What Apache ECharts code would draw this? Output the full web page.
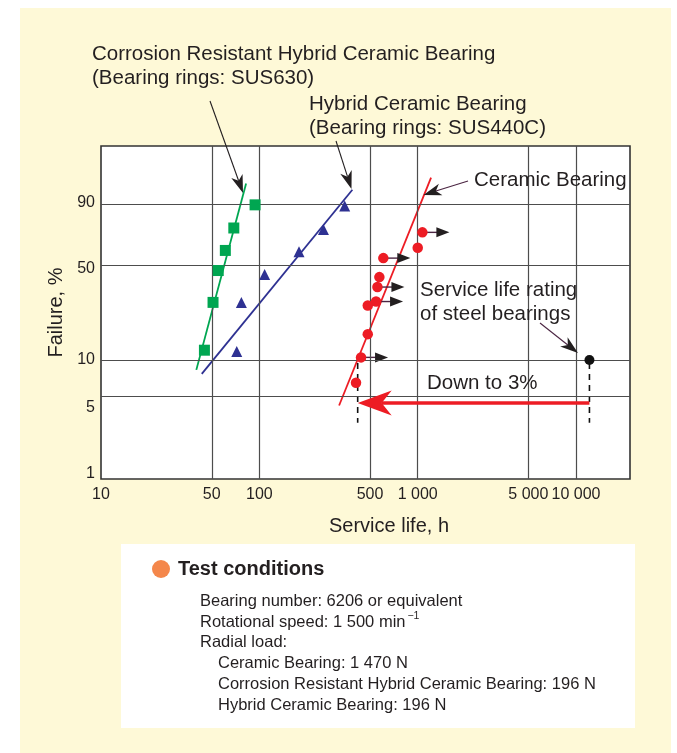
<!DOCTYPE html>
<html><head><meta charset="utf-8">
<script src="https://cdn.jsdelivr.net/npm/echarts@6/dist/echarts.min.js"></script>
<style>
html,body{margin:0;padding:0;background:#fff;}
#bg{position:absolute;left:20px;top:8px;width:651px;height:745px;background:#fef9d7;}
#c{position:absolute;left:0;top:0;width:677px;height:753px;}
</style>
</head><body><div id="bg"></div><div id="c"></div>
<script>
// ---------- data ----------
const xTickValues = [10, 50, 100, 500, 1000, 5000, 10000];
const xTickLabels = ['10', '50', '100', '500', '1 000', '5 000', '10 000'];
const yTickValues = [1, 5, 10, 50, 90];
const yTickLabels = ['1', '5', '10', '50', '90'];

// Corrosion resistant hybrid ceramic bearing (SUS630)
const corrHours = [45, 51, 55, 61, 69, 94];
const corrFailure = [12, 28, 46, 60, 76, 89.5];
const corrFitHours = [40, 82.5];
const corrFitFailure = [8.3, 96.8];

// Hybrid ceramic bearing (SUS440C)
const hybHours = [72, 77, 108, 178, 254, 346];
const hybFailure = [11.7, 28, 43.5, 59, 75, 89];
const hybFitHours = [43.3, 387];
const hybFitFailure = [7.7, 95.2];

// Ceramic bearing
const cerHours = [408, 439, 484, 484, 546, 557, 573, 607, 1001, 1071];
const cerFailure = [6.5, 10.5, 16.1, 26.6, 28.4, 35.9, 41.8, 54.5, 62, 73];
const cerSuspended = [0, 1, 0, 0, 1, 1, 0, 1, 0, 1];
const cerFitHours = [319, 1215];
const cerFitFailure = [4.2, 97.9];

// Steel bearing rating life and comparison
const steelHours = [12160];
const steelFailure = [10];
const cerRatedHours = [418];
const guideFailure = [10, 3];
const arrowFailure = [4.4];

// ---------- scales ----------
const tx = h => Math.log10(h);
const ty = p => Math.log(-Math.log(1 - p / 100));
const pairs = (xs, ys) => xs.map((x, i) => [tx(x), ty(ys[i])]);

const FONT = "'Liberation Sans', Arial, Helvetica, sans-serif";
const TXT = '#231f20';
const GREEN = '#00a651', BLUE = '#2e3192', RED = '#ed1c24';
const MAROON = '#4b2542';

function indexOfTick(values, tf, v) {
  for (let i = 0; i < values.length; i++) if (Math.abs(tf(values[i]) - v) < 1e-6) return i;
  return -1;
}
// small vertical nudges of the y tick labels, as in the original print
const yLabelRich = {
  t0: { padding: [0, 0, 10, 0] },
  t1: { padding: [22, 0, 0, 0] },
  t2: { padding: [0, 0, 0, 0] },
  t3: { padding: [9, 0, 0, 0] },
  t4: { padding: [0, 0, 2, 0] }
};

function arrowHead(x1, y1, x2, y2, L, W, notch) {
  const dx = x2 - x1, dy = y2 - y1, len = Math.hypot(dx, dy);
  const ux = dx / len, uy = dy / len, nx = -uy, ny = ux;
  return [
    [x2, y2],
    [x2 - ux * L + nx * W / 2, y2 - uy * L + ny * W / 2],
    [x2 - ux * notch, y2 - uy * notch],
    [x2 - ux * L - nx * W / 2, y2 - uy * L - ny * W / 2]
  ];
}
function pointer(x1, y1, x2, y2, color) {
  const L = 18, W = 12, notch = 13;
  const len = Math.hypot(x2 - x1, y2 - y1);
  const ex = x2 - (x2 - x1) / len * notch, ey = y2 - (y2 - y1) / len * notch;
  return [
    { type: 'line', silent: true, z: 20, shape: { x1: x1, y1: y1, x2: ex, y2: ey }, style: { stroke: color, lineWidth: 1.1 } },
    { type: 'polygon', silent: true, z: 20, shape: { points: arrowHead(x1, y1, x2, y2, L, W, notch) }, style: { fill: TXT } }
  ];
}
function txt(text, x, y, size, opts) {
  opts = opts || {};
  return {
    type: 'text', silent: true, z: 21,
    style: {
      text: text, x: x, y: y, fill: TXT,
      font: (opts.bold ? 'bold ' : '') + size + 'px ' + FONT,
      align: opts.align || 'left', verticalAlign: 'middle',
      textAlign: opts.align || 'left', textVerticalAlign: 'middle'
    }
  };
}

const chart = echarts.init(document.getElementById('c'), null, { renderer: 'canvas' });

// measure for superscript
const mctx = document.createElement('canvas').getContext('2d');
mctx.font = '16.5px ' + FONT;
const speedText = 'Rotational speed: 1 500 min';
const speedW = mctx.measureText(speedText).width;

const graphics = [].concat(
  [
    txt('Corrosion Resistant Hybrid Ceramic Bearing', 92, 54, 20.5),
    txt('(Bearing rings: SUS630)', 92, 78, 20.5),
    txt('Hybrid Ceramic Bearing', 309, 104, 20.5),
    txt('(Bearing rings: SUS440C)', 309, 128, 20.5),
    txt('Ceramic Bearing', 474, 180, 20.5),
    txt('Service life rating', 420, 290, 20.5),
    txt('of steel bearings', 420, 314, 20.5),
    txt('Down to 3%', 427, 383, 20.5)
  ],
  pointer(210, 101, 243, 193, TXT),
  pointer(336, 141, 351.5, 189, TXT),
  pointer(468, 181, 423.5, 195, MAROON),
  pointer(540, 323, 578, 353, MAROON),
  [
    { type: 'rect', silent: true, z: 1, shape: { x: 121, y: 544, width: 514, height: 184 }, style: { fill: '#ffffff' } },
    { type: 'circle', silent: true, z: 2, shape: { cx: 161, cy: 569, r: 9 }, style: { fill: '#f4874b' } },
    txt('Test conditions', 178, 569, 20, { bold: true }),
    txt('Bearing number: 6206 or equivalent', 200, 601, 16.5),
    txt(speedText, 200, 622, 16.5),
    txt('\u22121', 200 + speedW + 2, 616, 10.5),
    txt('Radial load:', 200, 642, 16.5),
    txt('Ceramic Bearing: 1 470 N', 218, 663, 16.5),
    txt('Corrosion Resistant Hybrid Ceramic Bearing: 196 N', 218, 684, 16.5),
    txt('Hybrid Ceramic Bearing: 196 N', 218, 705, 16.5)
  ]
);

const suspendedData = [];
cerHours.forEach((h, i) => { if (cerSuspended[i]) suspendedData.push([tx(h), ty(cerFailure[i])]); });

const option = {
  animation: false,
  backgroundColor: 'transparent',
  textStyle: { fontFamily: FONT },
  grid: { left: 101, top: 146, width: 529, height: 333, show: true, backgroundColor: '#ffffff', borderColor: '#333333', borderWidth: 1.6, containLabel: false },
  xAxis: {
    type: 'value', min: 1, max: 4.3411,
    axisLine: { show: false }, axisTick: { show: false }, splitLine: { show: false },
    axisLabel: {
      customValues: xTickValues.map(tx), margin: 8, fontSize: 16, color: TXT, fontFamily: FONT,
      formatter: v => { const i = indexOfTick(xTickValues, tx, v); return i < 0 ? '' : xTickLabels[i]; }
    },
    name: 'Service life, h', nameLocation: 'middle', nameGap: 37,
    nameTextStyle: { fontSize: 20, color: TXT, fontFamily: FONT, padding: [0, 0, 0, 47] }
  },
  yAxis: {
    type: 'value', min: ty(1), max: 1.9746,
    axisLine: { show: false }, axisTick: { show: false }, splitLine: { show: false },
    axisLabel: {
      customValues: yTickValues.map(ty), margin: 6, fontSize: 16, color: TXT, fontFamily: FONT,
      formatter: v => { const i = indexOfTick(yTickValues, ty, v); return i < 0 ? '' : '{t' + i + '|' + yTickLabels[i] + '}'; },
      rich: yLabelRich
    },
    name: 'Failure, %', nameLocation: 'middle', nameGap: 34, nameRotate: 90,
    nameTextStyle: { fontSize: 20, color: TXT, fontFamily: FONT }
  },
  graphic: graphics,
  series: [
    {
      name: 'grid', type: 'line', data: [], z: 1, silent: true,
      markLine: {
        silent: true, symbol: 'none', animation: false, label: { show: false },
        lineStyle: { color: '#4d4d4d', width: 1.2, type: 'solid' },
        data: xTickValues.slice(1).map(v => ({ xAxis: tx(v) }))
          .concat(yTickValues.slice(1).map(v => ({ yAxis: ty(v) })))
      }
    },
    { type: 'line', data: pairs(corrFitHours, corrFitFailure), showSymbol: false, z: 3, lineStyle: { color: GREEN, width: 1.8 } },
    { type: 'line', data: pairs(hybFitHours, hybFitFailure), showSymbol: false, z: 3, lineStyle: { color: BLUE, width: 1.8 } },
    { type: 'line', data: pairs(cerFitHours, cerFitFailure), showSymbol: false, z: 3, lineStyle: { color: RED, width: 1.8 } },
    {
      type: 'custom', z: 4, silent: true, data: suspendedData,
      renderItem: (params, api) => {
        const p = api.coord([api.value(0), api.value(1)]);
        const L = 27, HL = 13, HW = 10, tip = p[0] + L;
        return {
          type: 'group', children: [
            { type: 'line', shape: { x1: p[0], y1: p[1], x2: tip - HL + 1, y2: p[1] }, style: { stroke: MAROON, lineWidth: 1.4 } },
            { type: 'polygon', shape: { points: [[tip, p[1]], [tip - HL, p[1] - HW / 2], [tip - HL, p[1] + HW / 2]] }, style: { fill: TXT } }
          ]
        };
      }
    },
    {
      type: 'custom', z: 4, silent: true,
      data: [[tx(cerRatedHours[0]), ty(guideFailure[0]), ty(guideFailure[1])], [tx(steelHours[0]), ty(guideFailure[0]), ty(guideFailure[1])]],
      encode: { x: 0, y: [1, 2] },
      renderItem: (params, api) => {
        const a = api.coord([api.value(0), api.value(1)]);
        const b = api.coord([api.value(0), api.value(2)]);
        return { type: 'line', shape: { x1: a[0], y1: a[1] + 3, x2: b[0], y2: b[1] }, style: { stroke: '#111', lineWidth: 1.6, lineDash: [6, 5] } };
      }
    },
    {
      type: 'custom', z: 6, silent: true,
      data: [[tx(steelHours[0]), tx(cerRatedHours[0]), ty(arrowFailure[0])]],
      encode: { x: [0, 1], y: 2 },
      renderItem: (params, api) => {
        const s = api.coord([api.value(0), api.value(2)]);
        const e = api.coord([api.value(1), api.value(2)]);
        const L = 34, W = 25, notch = 24;
        return {
          type: 'group', children: [
            { type: 'line', shape: { x1: s[0], y1: s[1], x2: e[0] + notch, y2: e[1] }, style: { stroke: RED, lineWidth: 3.5 } },
            { type: 'polygon', shape: { points: arrowHead(s[0], s[1], e[0], e[1], L, W, notch) }, style: { fill: RED } }
          ]
        };
      }
    },
    { type: 'scatter', data: pairs(corrHours, corrFailure), symbol: 'rect', symbolSize: 11, z: 5, itemStyle: { color: GREEN, opacity: 1 } },
    { type: 'scatter', data: pairs(hybHours, hybFailure), symbol: 'triangle', symbolSize: 11, z: 5, itemStyle: { color: BLUE, opacity: 1 } },
    { type: 'scatter', data: pairs(cerHours, cerFailure), symbol: 'circle', symbolSize: 10.5, z: 5, itemStyle: { color: RED, opacity: 1 } },
    { type: 'scatter', data: pairs(steelHours, steelFailure), symbol: 'circle', symbolSize: 10, z: 7, itemStyle: { color: '#111', opacity: 1 } }
  ]
};
chart.setOption(option);
</script>
</body></html>
